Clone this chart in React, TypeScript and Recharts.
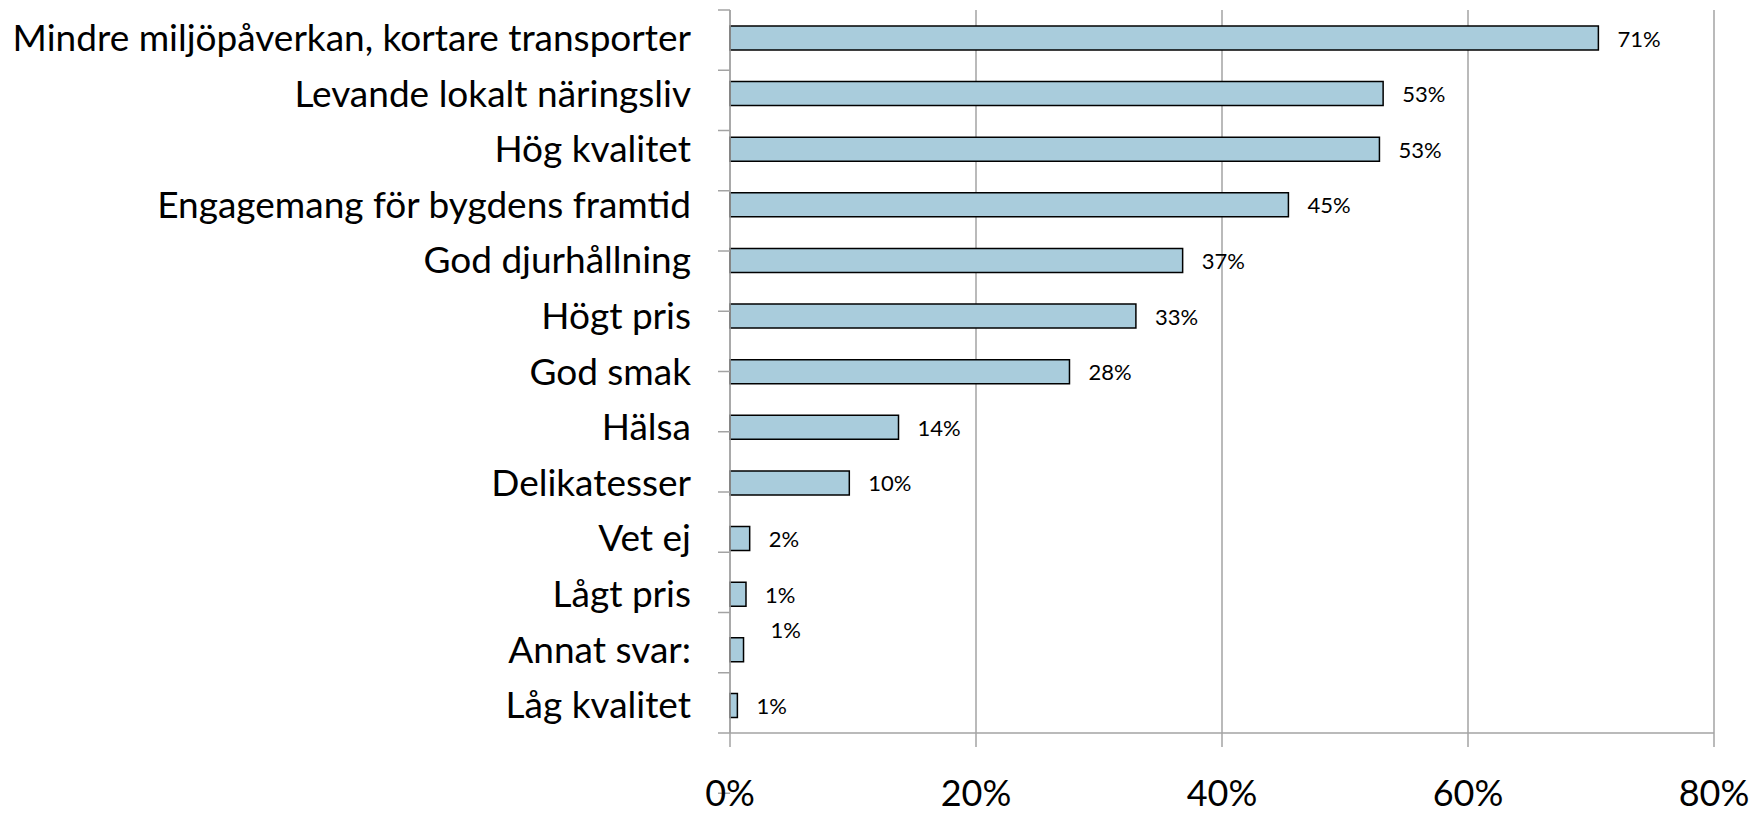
import React from "react";
import { BarChart, Bar, XAxis, YAxis, CartesianGrid, LabelList } from "recharts";

const categories = [
  "Mindre miljöpåverkan, kortare transporter",
  "Levande lokalt näringsliv",
  "Hög kvalitet",
  "Engagemang för bygdens framtid",
  "God djurhållning",
  "Högt pris",
  "God smak",
  "Hälsa",
  "Delikatesser",
  "Vet ej",
  "Lågt pris",
  "Annat svar:",
  "Låg kvalitet",
];

const shares = [70.6, 53.1, 52.8, 45.4, 36.8, 33.0, 27.6, 13.7, 9.7, 1.6, 1.3, 1.1, 0.6];

const xTicks = [0, 20, 40, 60, 80];
const bandEdges = categories.map((_, i) => i).concat(categories.length);

const data = categories.map((name, i) => ({ name, share: shares[i] }));

const FONT = "Lato, 'Open Sans', sans-serif";
const GRID = "#a3a3a3";

const renderValue = (props: any) => {
  const { x, y, width, height, value, index } = props;
  // Excel pushed the "Annat svar:" label up to avoid the neighbour
  const lifted = categories[index] === "Annat svar:";
  return (
    <text
      x={x + width + (lifted ? 27 : 19)}
      y={y + height / 2 + (lifted ? -20 : 0)}
      dominantBaseline="central"
      fontFamily={FONT}
      fontSize={22}
      fill="#000"
    >
      {`${Math.round(value)}%`}
    </text>
  );
};

export default function App() {
  return (
    <div style={{ position: "absolute", left: 0, top: 0, background: "#fff" }}>
      <BarChart
        width={1761}
        height={815}
        data={data}
        layout="vertical"
        margin={{ top: 10, right: 47, bottom: 0, left: 0 }}
      >
        <CartesianGrid horizontal={false} vertical stroke={GRID} strokeWidth={1.5} />
        <XAxis
          type="number"
          domain={[0, 80]}
          ticks={xTicks}
          tickFormatter={(v) => `${v}%`}
          height={82}
          stroke={GRID}
          strokeWidth={1.5}
          tickSize={14}
          tickMargin={33}
          tick={{ fill: "#000", fontSize: 36, fontFamily: FONT }}
        />
        <YAxis
          yAxisId="b_cat"
          type="category"
          dataKey="name"
          width={718}
          axisLine={false}
          tickLine={false}
          tickSize={0}
          tickMargin={27}
          interval={0}
          tick={{ fill: "#000", fontSize: 37, fontFamily: FONT }}
        />
        <YAxis
          yAxisId="a_edge"
          type="number"
          domain={[0, categories.length]}
          ticks={bandEdges}
          width={12}
          tick={() => <g />}
          tickSize={12}
          stroke={GRID}
          strokeWidth={1.5}
          allowDataOverflow
        />
        <Bar
          yAxisId="b_cat"
          dataKey="share"
          fill="#a9ccdc"
          stroke="#000"
          strokeWidth={1.5}
          barSize={24}
          isAnimationActive={false}
        >
          <LabelList dataKey="share" content={renderValue} />
        </Bar>
      </BarChart>
    </div>
  );
}
